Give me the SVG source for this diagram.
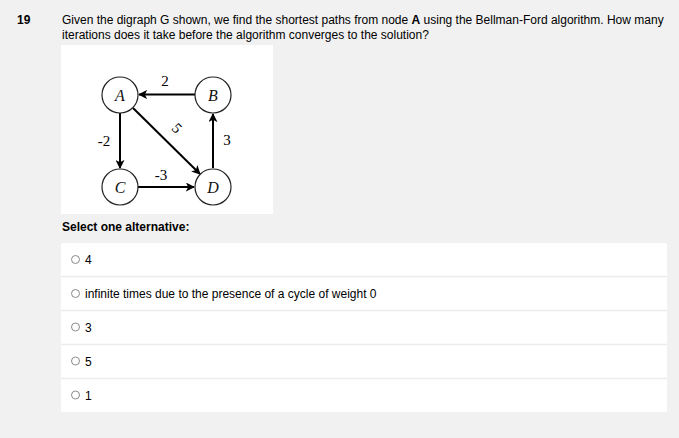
<svg xmlns="http://www.w3.org/2000/svg" width="679" height="438" viewBox="0 0 679 438">
<style>
.q{font-family:"Liberation Sans",Arial,sans-serif;font-size:12px;fill:#000}
.b{font-weight:bold}
.node circle{fill:#fff;stroke:#222;stroke-width:1.2}
.node text{font-family:"Liberation Serif","Times New Roman",serif;font-style:italic;font-size:16px;fill:#111;text-anchor:middle}
.edge{stroke:#000;stroke-width:2;fill:none;marker-end:url(#ah)}
.lbl{font-family:"Liberation Serif","Times New Roman",serif;font-size:15px;fill:#000;text-anchor:middle}
.radio{fill:#fff;stroke:#8a8a8a;stroke-width:1}
.row{fill:#fff}
.div{stroke:#ececec;stroke-width:1.5}
</style>
<defs>
<marker id="ah" viewBox="0 0 10 10" refX="9" refY="5" markerWidth="4.5" markerHeight="4.5" orient="auto" markerUnits="strokeWidth">
<path d="M0,0 L10,5 L0,10 L2.5,5 Z" fill="#000"/>
</marker>
</defs>
<rect width="679" height="438" fill="#f1f1f1"/>
<text class="q b" x="17" y="24">19</text>
<text class="q" x="62" y="24">Given the digraph G shown, we find the shortest paths from node <tspan class="b">A</tspan> using the Bellman-Ford algorithm. How many</text>
<text class="q" x="62" y="39">iterations does it take before the algorithm converges to the solution?</text>
<rect x="61" y="45" width="212" height="169" fill="#fff"/>
<g id="edges">
<line class="edge" x1="195" y1="94.5" x2="139" y2="94.5"/>
<line class="edge" x1="120" y1="113" x2="120" y2="168"/>
<line class="edge" x1="133" y1="108" x2="200" y2="174"/>
<line class="edge" x1="138" y1="187" x2="194" y2="187"/>
<line class="edge" x1="213" y1="168" x2="213" y2="114"/>
</g>
<g id="edge-labels">
<text class="lbl" x="165" y="86">2</text>
<text class="lbl" x="104" y="146">-2</text>
<text class="lbl" x="177" y="133" transform="rotate(45 177 128)">5</text>
<text class="lbl" x="227" y="145">3</text>
<text class="lbl" x="161" y="180">-3</text>
</g>
<g id="A" class="node"><circle cx="120" cy="95" r="18"/><text x="120" y="100.5">A</text></g>
<g id="B" class="node"><circle cx="213" cy="95" r="18"/><text x="213" y="100.5">B</text></g>
<g id="C" class="node"><circle cx="120" cy="187" r="18"/><text x="120" y="192.5">C</text></g>
<g id="D" class="node"><circle cx="213" cy="187" r="18"/><text x="213" y="192.5">D</text></g>
<text class="q b" x="62" y="231">Select one alternative:</text>
<rect class="row" x="61" y="243" width="606" height="169" rx="2"/>
<line class="div" x1="61" y1="276.5" x2="667" y2="276.5"/>
<line class="div" x1="61" y1="310.5" x2="667" y2="310.5"/>
<line class="div" x1="61" y1="344.5" x2="667" y2="344.5"/>
<line class="div" x1="61" y1="378.5" x2="667" y2="378.5"/>
<circle class="radio" cx="75.5" cy="259.5" r="4"/><text class="q" x="85" y="264">4</text>
<circle class="radio" cx="75.5" cy="293.5" r="4"/><text class="q" x="85" y="298">infinite times due to the presence of a cycle of weight 0</text>
<circle class="radio" cx="75.5" cy="327" r="4"/><text class="q" x="85" y="331.5">3</text>
<circle class="radio" cx="75.5" cy="361" r="4"/><text class="q" x="85" y="365.5">5</text>
<circle class="radio" cx="75.5" cy="395" r="4"/><text class="q" x="85" y="399.5">1</text>
</svg>
